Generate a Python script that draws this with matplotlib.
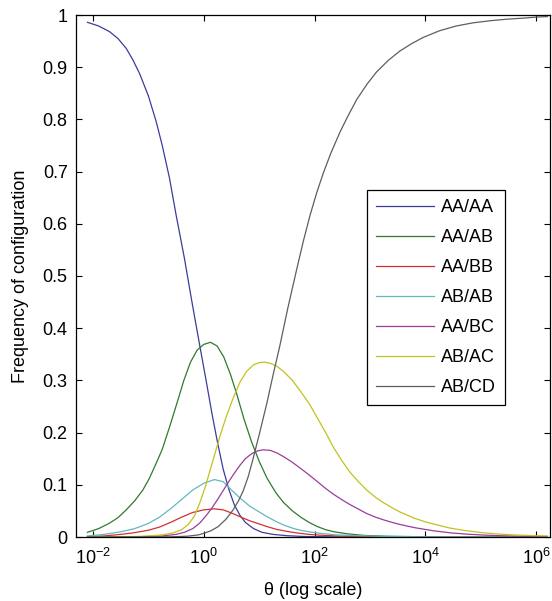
import numpy as np
import matplotlib
matplotlib.use('Agg')
import matplotlib.pyplot as plt

plt.rcParams['font.family'] = 'Liberation Sans'
plt.rcParams['mathtext.fontset'] = 'custom'
plt.rcParams['mathtext.rm'] = 'Liberation Sans'
plt.rcParams['font.size'] = 13

# values, x given as log10(theta)
aaaa_x = [-2.1, -1.9, -1.7, -1.55, -1.4, -1.28, -1.16, -1.0, -0.86, -0.75, -0.62, -0.5, -0.35, -0.21,
          -0.07, 0.05, 0.15, 0.25, 0.35, 0.45, 0.55, 0.65, 0.75, 0.9, 1.05, 1.25, 1.5, 1.8, 2.3, 3.0, 6.2]
aaaa_y = [0.986, 0.979, 0.968, 0.955, 0.936, 0.914, 0.888, 0.845, 0.796, 0.750, 0.688, 0.617, 0.534, 0.448,
          0.365, 0.295, 0.235, 0.180, 0.130, 0.092, 0.062, 0.042, 0.028, 0.016, 0.009, 0.005, 0.0025, 0.001, 0.0003, 0.0001, 0.0]

aaab_x = [-2.1, -1.9, -1.71, -1.55, -1.4, -1.25, -1.1, -0.98, -0.86, -0.75, -0.62, -0.48, -0.36, -0.24, -0.12,
          0.0, 0.12, 0.24, 0.36, 0.48, 0.6, 0.72, 0.86, 1.0, 1.14, 1.3, 1.44, 1.6, 1.75, 1.9, 2.05, 2.2, 2.35,
          2.6, 2.9, 3.3, 4.0, 5.0, 6.2]
aaab_y = [0.009, 0.016, 0.026, 0.037, 0.052, 0.069, 0.090, 0.113, 0.141, 0.168, 0.210, 0.258, 0.300, 0.335, 0.358,
          0.369, 0.373, 0.366, 0.345, 0.312, 0.272, 0.228, 0.183, 0.145, 0.113, 0.085, 0.066, 0.050, 0.038, 0.028,
          0.020, 0.014, 0.010, 0.006, 0.003, 0.0015, 0.0004, 0.0001, 0.0]

aabb_x = [-2.1, -1.8, -1.5, -1.27, -1.0, -0.8, -0.6, -0.4, -0.2, 0.0, 0.19, 0.35, 0.5, 0.65, 0.83, 1.0, 1.14,
          1.3, 1.44, 1.6, 1.74, 1.9, 2.1, 2.4, 2.8, 3.3, 4.0, 6.2]
aabb_y = [0.001, 0.002, 0.005, 0.008, 0.013, 0.019, 0.028, 0.038, 0.047, 0.052, 0.054, 0.052, 0.046, 0.039,
          0.031, 0.025, 0.020, 0.015, 0.012, 0.009, 0.007, 0.005, 0.0035, 0.002, 0.0012, 0.0005, 0.0001, 0.0]

abab_x = [-2.1, -1.8, -1.5, -1.25, -1.0, -0.8, -0.6, -0.4, -0.2, 0.0, 0.19, 0.35, 0.5, 0.65, 0.83, 1.0, 1.14,
          1.3, 1.44, 1.6, 1.74, 1.9, 2.1, 2.4, 2.8, 3.3, 4.0, 6.2]
abab_y = [0.002, 0.005, 0.010, 0.016, 0.026, 0.038, 0.054, 0.072, 0.090, 0.103, 0.110, 0.106, 0.090, 0.075,
          0.059, 0.048, 0.039, 0.030, 0.023, 0.017, 0.013, 0.010, 0.007, 0.004, 0.0025, 0.001, 0.0003, 0.0]

aabc_x = [-2.1, -1.2, -1.0, -0.75, -0.5, -0.35, -0.2, -0.07, 0.05, 0.15, 0.25, 0.35, 0.45, 0.55, 0.65, 0.75,
          0.87, 0.97, 1.07, 1.2, 1.32, 1.44, 1.6, 1.74, 1.9, 2.04, 2.2, 2.34, 2.5, 2.64, 2.8, 2.94, 3.1, 3.24,
          3.4, 3.54, 3.8, 4.14, 4.45, 4.74, 5.05, 5.35, 5.65, 5.95, 6.2]
aabc_y = [0.0, 0.0005, 0.001, 0.002, 0.005, 0.009, 0.016, 0.027, 0.042, 0.056, 0.072, 0.089, 0.106, 0.122,
          0.137, 0.150, 0.160, 0.165, 0.167, 0.166, 0.161, 0.154, 0.143, 0.132, 0.119, 0.107, 0.093, 0.082,
          0.071, 0.062, 0.053, 0.045, 0.038, 0.033, 0.028, 0.024, 0.018, 0.012, 0.008, 0.0055, 0.0037,
          0.0025, 0.0017, 0.0012, 0.0009]

abac_x = [-2.1, -1.2, -1.0, -0.75, -0.55, -0.4, -0.28, -0.17, -0.07, 0.03, 0.12, 0.21, 0.3, 0.41, 0.53, 0.65,
          0.77, 0.9, 1.0, 1.09, 1.2, 1.32, 1.44, 1.6, 1.74, 1.9, 2.04, 2.2, 2.34, 2.5, 2.64, 2.8, 2.94, 3.1,
          3.24, 3.4, 3.54, 3.8, 4.0, 4.14, 4.45, 4.74, 5.05, 5.35, 5.65, 5.95, 6.2]
abac_y = [0.0, 0.001, 0.002, 0.004, 0.008, 0.014, 0.024, 0.040, 0.066, 0.097, 0.130, 0.163, 0.196, 0.232,
          0.266, 0.296, 0.317, 0.330, 0.334, 0.335, 0.333, 0.327, 0.317, 0.300, 0.280, 0.256, 0.230, 0.200,
          0.172, 0.145, 0.124, 0.105, 0.090, 0.076, 0.066, 0.056, 0.048, 0.036, 0.029, 0.025, 0.017, 0.012,
          0.008, 0.0055, 0.0037, 0.0026, 0.002]

abcd_x = [-2.1, -0.6, -0.3, -0.1, 0.0, 0.13, 0.26, 0.4, 0.53, 0.63, 0.71, 0.8, 0.89, 1.0, 1.14, 1.25, 1.37,
          1.52, 1.68, 1.8, 1.92, 2.04, 2.16, 2.3, 2.46, 2.6, 2.76, 2.95, 3.12, 3.33, 3.54, 3.75, 3.96, 4.26,
          4.56, 4.86, 5.17, 5.47, 5.77, 6.0, 6.2]
abcd_y = [0.0, 0.0003, 0.0015, 0.004, 0.007, 0.012, 0.020, 0.034, 0.052, 0.070, 0.088, 0.115, 0.150, 0.196,
          0.257, 0.310, 0.365, 0.440, 0.514, 0.568, 0.617, 0.660, 0.698, 0.737, 0.776, 0.806, 0.838, 0.868,
          0.891, 0.913, 0.931, 0.945, 0.957, 0.970, 0.979, 0.985, 0.989, 0.992, 0.994, 0.996, 0.997]

labels = ['AA/AA', 'AA/AB', 'AA/BB', 'AB/AB', 'AA/BC', 'AB/AC', 'AB/CD']
colors = ['#3c3c9c', '#2f7a2f', '#d43030', '#62b8be', '#9c3c9c', '#c2c21e', '#5e5e5e']
series = [(aaaa_x, aaaa_y), (aaab_x, aaab_y), (aabb_x, aabb_y), (abab_x, abab_y),
          (aabc_x, aabc_y), (abac_x, abac_y), (abcd_x, abcd_y)]

fig = plt.figure(figsize=(5.52, 6.01), dpi=100)
ax = fig.add_axes([76/552, 1-537/601, 474/552, 522/601])

for (xs, ys), lab, c in zip(series, labels, colors):
    ax.plot(10.0**np.array(xs), ys, color=c, lw=0.9, label=lab)

ax.set_xscale('log')
ax.set_xlim(10**-2.307, 10**6.25)
ax.set_ylim(0, 1)
ax.set_xticks([1e-2, 1e0, 1e2, 1e4, 1e6])
ax.set_xticklabels([r'$10^{-2}$', r'$10^{0}$', r'$10^{2}$', r'$10^{4}$', r'$10^{6}$'])
ax.xaxis.set_minor_locator(matplotlib.ticker.NullLocator())
ax.set_yticks(np.arange(0, 1.01, 0.1))
ax.set_yticklabels(['0', '0.1', '0.2', '0.3', '0.4', '0.5', '0.6', '0.7', '0.8', '0.9', '1'])
ax.tick_params(direction='in', top=True, right=True, length=4, width=0.8)
ax.tick_params(axis='y', pad=6)
ax.tick_params(axis='x', pad=8)
for s in ax.spines.values():
    s.set_linewidth(0.9)

ax.set_xlabel('\u03b8 (log scale)', labelpad=10)
ax.set_ylabel('Frequency of configuration', labelpad=10)

leg = ax.legend(loc='upper left', bbox_to_anchor=(0.614, 0.665), borderaxespad=0,
                fancybox=False, edgecolor='black', framealpha=1, handlelength=3.2,
                labelspacing=0.72, borderpad=0.5, handletextpad=0.4)
leg.get_frame().set_linewidth(0.9)

fig.savefig('out.png', dpi=100)
